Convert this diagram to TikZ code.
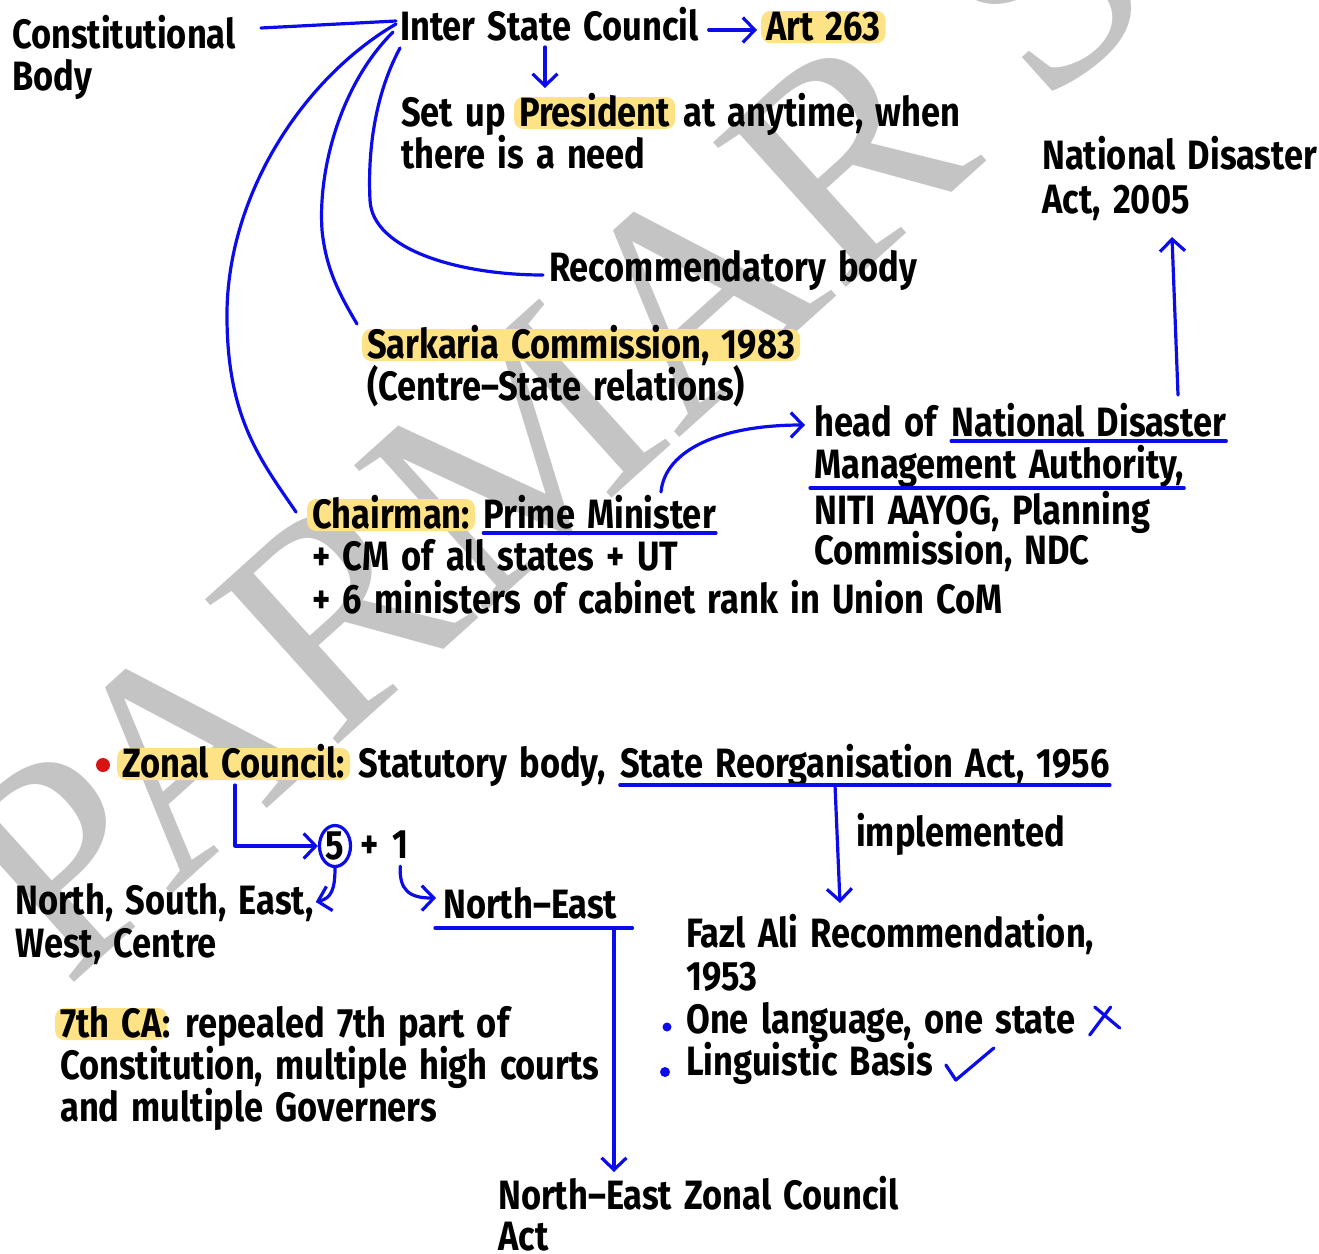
\documentclass[tikz,border=0pt]{standalone}
\usepackage{fontspec}
\setmainfont{Fira Sans}[FakeStretch=0.84, WordSpace=1.5]
\newfontfamily\wmfont{Liberation Serif}
\usetikzlibrary{arrows.meta,shapes.geometric}
\definecolor{inkblue}{RGB}{12,12,235}
\definecolor{hlc}{RGB}{253,226,134}
\definecolor{wmg}{RGB}{196,196,196}
\definecolor{dotred}{RGB}{215,20,20}
\begin{document}
\begin{tikzpicture}[x=1pt,y=-1pt,
  txt/.style={anchor=base west, inner sep=0pt, font=\fontsize{41}{43}\selectfont\bfseries},
  hl/.style={txt, fill=hlc, rounded corners=9pt, inner xsep=5pt, inner ysep=0pt, text height=29pt, text depth=3pt},
  con/.style={draw=inkblue, line width=3.2pt, line cap=round, line join=round},
  arr/.style={-{Straight Barb[length=12pt,width=25pt,line width=3.2pt]}},
  ul/.style={draw=inkblue, line width=3.2pt, line cap=round}]
\useasboundingbox (0,0) rectangle (1319,1253);
% watermark
\begin{scope}
\clip (0,0) rectangle (1319,1253);
\node[anchor=base west, inner sep=0pt, rotate=42, text=wmg, font=\wmfont\fontsize{300}{300}\selectfont] (wm) at (66,990) {PARMAR S};
\end{scope}
% ---------------- top part
\node[txt] (cb1) at (12,48) {Constitutional};
\node[txt] (cb2) at (12,90) {Body};
\node[txt] (isc) at (400,40) {Inter State Council};
\node[hl] (art) at (761,40) {Art 263};
\node[txt] (su1) at (401,126) {Set up};
\node[hl] (pres) at ([xshift=8pt]su1.base east) {President};
\node[txt] (su2) at ([xshift=8pt]pres.base east) {at anytime, when};
\node[txt] (su3) at (401,168) {there is a need};
\node[txt] (nda1) at (1042,169) {National Disaster};
\node[txt] (nda2) at (1042,213) {Act, 2005};
\node[txt] (rec) at (549,281) {Recommendatory body};
\node[hl] (sark) at (362,358) {Sarkaria Commission, 1983};
\node[txt] (csr) at (367,400) {(Centre–State relations)};
\node[txt] (hd1) at (814,436) {head of};
\node[txt] (hd2) at ([xshift=14pt]hd1.base east) {National Disaster};
\node[txt] (hd3) at (814,478) {Management Authority,};
\node[txt] (hd4) at (814,524) {NITI AAYOG, Planning};
\node[txt] (hd5) at (814,564) {Commission, NDC};
\node[hl] (chair) at (307,528) {Chairman:};
\node[txt] (pm) at ([xshift=8pt]chair.base east) {Prime Minister};
\node[txt] (cm) at (312,570) {+ CM of all states + UT};
\node[txt] (six) at (312,613) {+ 6 ministers of cabinet rank in Union CoM};
% connectors top
\draw[con] ([xshift=25pt,yshift=20pt]cb1.base east) -- ([xshift=-4pt,yshift=19pt]isc.base west);
\draw[con] ([xshift=-4pt,yshift=16pt]isc.base west) .. controls (300,80) and (225,200) .. (227,320) .. controls (228,420) and (262,462) .. ([xshift=-11pt,yshift=16pt]chair.base west);
\draw[con] ([xshift=-7pt,yshift=8pt]isc.base west) .. controls (340,85) and (318,170) .. (322,230) .. controls (326,270) and (340,295) .. ([xshift=-5pt,yshift=34pt]sark.base west);
\draw[con] ([yshift=-8pt]isc.base west) .. controls (372,100) and (368,160) .. (370,200) .. controls (372,250) and (460,275) .. ([xshift=-6pt,yshift=6pt]rec.base west);
\draw[con,arr] ([xshift=10pt,yshift=10pt]isc.base east) -- ([xshift=-4pt,yshift=10pt]art.base west);
\draw[con,arr] ([xshift=145pt,yshift=-7pt]isc.base west) -- ([xshift=144pt,yshift=38pt]su1.base west);
\draw[con,arr] ([xshift=-55pt,yshift=36pt]pm.base east) .. controls (665,450) and (720,425) .. ([xshift=-9pt,yshift=11pt]hd1.base west);
\coordinate (ndtip) at ([xshift=130pt,yshift=-24pt]nda2.base west);
\coordinate (ndy) at ([yshift=41pt]hd2.base west);
\draw[con,arr] ([xshift=6pt]ndtip |- ndy) -- (ndtip);
\draw[ul] ([yshift=-5pt]hd2.base west) -- ([yshift=-5pt]hd2.base east);
\draw[ul] ([xshift=-4pt,yshift=-10pt]hd3.base west) -- ([yshift=-10pt]hd3.base east);
\draw[ul] ([yshift=-5pt]pm.base west) -- ([yshift=-5pt]pm.base east);
% ---------------- bottom part
\node[hl] (zc) at (117,777) {Zonal Council:};
\fill[dotred] ([xshift=-14pt,yshift=12pt]zc.base west) circle (7);
\node[txt] (zc2) at ([xshift=8pt]zc.base east) {Statutory body,};
\node[txt] (sra) at ([xshift=14pt]zc2.base east) {State Reorganisation Act, 1956};
\node[draw=inkblue, line width=3.2pt, ellipse, inner sep=0pt, minimum width=31pt, minimum height=41pt, font=\fontsize{41}{43}\selectfont\bfseries] (fc) at (335,846) {5};
\node[txt] (plus) at (360,858) {+};
\node[txt] (one) at (392,858) {1};
\node[txt] (nse1) at (15,914) {North, South, East,};
\node[txt] (nse2) at (15,957) {West, Centre};
\node[txt] (ne) at (443,918) {North–East};
\node[txt] (impl) at (856,846) {implemented};
\node[txt] (fa1) at (686,947) {Fazl Ali Recommendation,};
\node[txt] (fa2) at (686,990) {1953};
\node[txt] (ol) at (686,1033) {One language, one state};
\node[txt] (lb) at (686,1075) {Linguistic Basis};
\node[hl] (ca) at (55,1037) {7th CA};
\node[txt] (ca2) at ([xshift=-5pt]ca.base east) {: repealed 7th part of};
\node[txt] (ca3) at (60,1079) {Constitution, multiple high courts};
\node[txt] (ca4) at (60,1121) {and multiple Governers};
\node[txt] (nezc1) at (498,1209) {North–East Zonal Council};
\node[txt] (nezc2) at (498,1250) {Act};
% connectors bottom
\draw[ul] ([yshift=-8pt]sra.base west) -- ([yshift=-8pt]sra.base east);
\draw[con,arr] ([xshift=118pt,yshift=-8pt]zc.base west) |- (fc.west);
\draw[con,arr] (fc.south) .. controls ([yshift=-22pt]fc.south) and ([xshift=-4pt,yshift=-30pt]fc.south) .. ([xshift=2pt,yshift=12pt]nse1.base east);
\draw[con,arr] ([yshift=-8pt]one.south) .. controls ([xshift=-1pt,yshift=-32pt]one.south) and ([xshift=9pt,yshift=-40pt]one.south) .. ([xshift=-7pt,yshift=20pt]ne.base west);
\draw[ul] ([xshift=-8pt,yshift=-10pt]ne.base west) -- ([xshift=15pt,yshift=-10pt]ne.base east);
\coordinate (netip) at ([xshift=116pt,yshift=37pt]nezc1.base west);
\coordinate (nuly) at ([yshift=-10pt]ne.base west);
\draw[con,arr] (netip |- nuly) -- (netip);
\coordinate (fatip) at ([xshift=154pt,yshift=44pt]fa1.base west);
\coordinate (suly) at ([yshift=-8pt]sra.base west);
\draw[con,arr] ([xshift=-5pt]fatip |- suly) -- (fatip);
\fill[inkblue] ([xshift=-19pt,yshift=6pt]ol.base west) circle (4.5);
\fill[inkblue] ([xshift=-21pt,yshift=3pt]lb.base west) circle (5);
\draw[con] ([xshift=14pt,yshift=-2pt]ol.base east) -- ([xshift=35pt,yshift=26pt]ol.base east);
\draw[con] ([xshift=19pt,yshift=26pt]ol.base east) -- ([xshift=44pt,yshift=5pt]ol.base east);
\draw[con] ([xshift=13pt,yshift=10pt]lb.base east) -- ([xshift=23pt,yshift=-5pt]lb.base east) -- ([xshift=61pt,yshift=27pt]lb.base east);
\end{tikzpicture}
\end{document}
